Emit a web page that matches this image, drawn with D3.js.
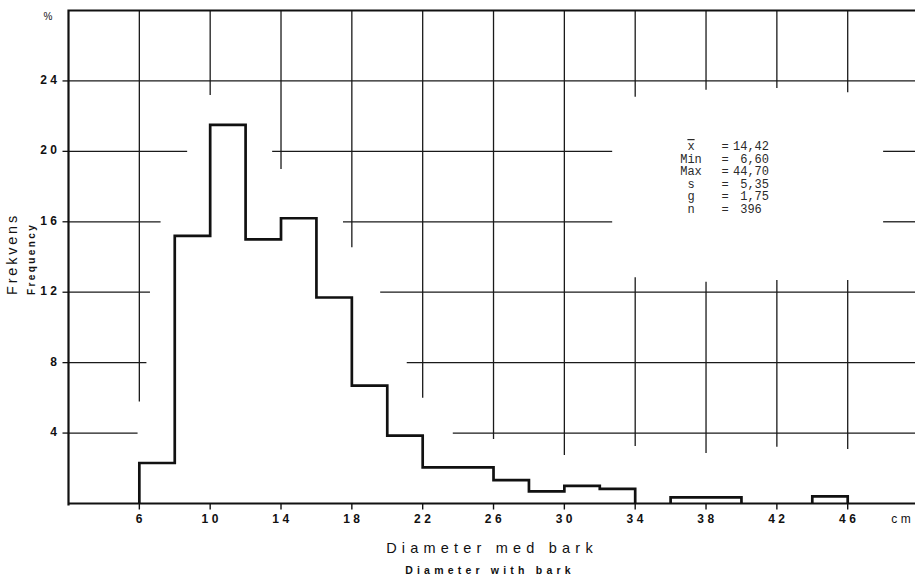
<!DOCTYPE html>
<html>
<head>
<meta charset="utf-8">
<script src="https://cdn.jsdelivr.net/npm/d3@7"></script>
<style>
  body { margin: 0; background: #fff; }
  svg { display: block; }
  text { font-family: "Liberation Sans", Arial, sans-serif; fill: #111; }
  .stats text { font-family: "Liberation Mono", "DejaVu Sans Mono", monospace; fill: #2a2a2a; white-space: pre; }
</style>
</head>
<body>
<svg id="chart" width="915" height="580"></svg>
<script>
// 2 cm diameter classes, frequency in % of trees
var bin_starts = [6, 8, 10, 12, 14, 16, 18, 20, 22, 24, 26, 28, 30, 32, 34, 36, 38, 40, 42, 44]
var bin_width = 2
var frequency = [2.3, 15.2, 21.5, 15.0, 16.2, 11.7, 6.7, 3.85, 2.05, 2.05, 1.33, 0.69, 1.0, 0.83, 0, 0.35, 0.35, 0, 0, 0.4]

var x_ticks = [6, 10, 14, 18, 22, 26, 30, 34, 38, 42, 46]
var y_ticks = [4, 8, 12, 16, 20, 24]

var stats_labels = ["x", "Min", "Max", "s", "g", "n"]
var stats_values = ["14,42", "6,60", "44,70", "5,35", "1,75", "396"]

// the grid in the print is broken up, pieces kept as [at, from, to] in axis units
var grid_h = [
	[24, 2, 49.8],
	[20, 2, 8.7], [20, 13.5, 32.7], [20, 48, 49.8],
	[16, 2, 7.2], [16, 17.5, 32.7], [16, 48, 49.8],
	[12, 2, 6.6], [12, 19.6, 49.8],
	[8, 2, 6.4], [8, 21.1, 49.8],
	[4, 2, 5.9], [4, 23.7, 49.8]
]
var grid_v = [
	[6, 28, 5.8], [10, 28, 23.2], [14, 28, 19.0], [18, 28, 14.55],
	[22, 28, 6.0], [26, 28, 3.66], [30, 28, 2.75],
	[34, 28, 23.1], [34, 12.85, 3.26],
	[38, 28, 23.5], [38, 12.6, 2.87],
	[42, 28, 23.6], [42, 12.7, 3.23],
	[46, 28, 23.35], [46, 12.7, 3.1]
]

var svg = d3.select("#chart")
svg.append("rect").attr("width", 915).attr("height", 580).style("fill", "#fff")

var x_scale = d3.scaleLinear().domain([2, 49.8]).range([68.5, 915]),
    y_scale = d3.scaleLinear().domain([0, 28]).range([503.5, 10.5])

// grid pieces
svg.selectAll(".grid_h")
  .data(grid_h)
  .enter()
  .append("line")
  .attr("class", "grid_h")
  .attr("x1", d => x_scale(d[1]))
  .attr("x2", d => x_scale(d[2]))
  .attr("y1", d => y_scale(d[0]))
  .attr("y2", d => y_scale(d[0]))
  .style("stroke", "#1a1a1a")
  .style("stroke-width", 1.3)

svg.selectAll(".grid_v")
  .data(grid_v)
  .enter()
  .append("line")
  .attr("class", "grid_v")
  .attr("x1", d => x_scale(d[0]))
  .attr("x2", d => x_scale(d[0]))
  .attr("y1", d => y_scale(d[1]))
  .attr("y2", d => y_scale(d[2]))
  .style("stroke", "#1a1a1a")
  .style("stroke-width", 1.3)

// frame: left, top, bottom
var x0 = x_scale.range()[0], x1 = x_scale.range()[1],
    y0 = y_scale.range()[0], y1 = y_scale.range()[1]
svg.append("path")
  .attr("d", "M" + x1 + "," + y1 + "H" + x0 + "V" + (y0 + 2) + "M" + x0 + "," + y0 + "H" + x1)
  .style("fill", "none")
  .style("stroke", "#111")
  .style("stroke-width", 2.2)

// ticks
svg.selectAll(".x_tick")
  .data(x_ticks)
  .enter()
  .append("line")
  .attr("class", "x_tick")
  .attr("x1", d => x_scale(d)).attr("x2", d => x_scale(d))
  .attr("y1", y0).attr("y2", y0 + 6)
  .style("stroke", "#111").style("stroke-width", 1.4)

svg.selectAll(".y_tick")
  .data(y_ticks)
  .enter()
  .append("line")
  .attr("class", "y_tick")
  .attr("x1", x0 - 6).attr("x2", x0)
  .attr("y1", d => y_scale(d)).attr("y2", d => y_scale(d))
  .style("stroke", "#111").style("stroke-width", 1.3)

// histogram outline, every run of non-empty classes is closed down to the axis
var hist = d3.path()
var open = false
bin_starts.forEach(function(b, i) {
	var v = frequency[i]
	if (v > 0) {
		if (!open) { hist.moveTo(x_scale(b), y_scale(0)); open = true }
		hist.lineTo(x_scale(b), y_scale(v))
		hist.lineTo(x_scale(b + bin_width), y_scale(v))
	}
	if (open && (v == 0 || i == bin_starts.length - 1)) {
		var end = v == 0 ? b : b + bin_width
		hist.lineTo(x_scale(end), y_scale(0))
		open = false
	}
})
svg.append("path")
  .attr("d", hist.toString())
  .style("fill", "none")
  .style("stroke", "#111")
  .style("stroke-width", 2.7)
  .style("stroke-linejoin", "miter")

// tick labels
svg.selectAll(".x_label")
  .data(x_ticks)
  .enter()
  .append("text")
  .attr("class", "x_label")
  .attr("x", d => x_scale(d) + 1.5)
  .attr("y", y0 + 19)
  .attr("text-anchor", "middle")
  .style("font-size", "12px")
  .style("font-weight", "bold")
  .style("letter-spacing", "3.5px")
  .text(d => d)

svg.append("text")
  .attr("x", x_scale(49) + 2)
  .attr("y", y0 + 19)
  .attr("text-anchor", "middle")
  .style("font-size", "12px")
  .style("letter-spacing", "3.5px")
  .text("cm")

svg.selectAll(".y_label")
  .data(y_ticks)
  .enter()
  .append("text")
  .attr("class", "y_label")
  .attr("x", x0 - 8)
  .attr("y", d => y_scale(d) + 3)
  .attr("text-anchor", "end")
  .style("font-size", "12px")
  .style("font-weight", "bold")
  .style("letter-spacing", "3.5px")
  .text(d => d)

svg.append("text")
  .attr("x", 48).attr("y", 20)
  .attr("text-anchor", "middle")
  .style("font-size", "10px")
  .text("%")

// axis titles
svg.append("text")
  .attr("x", 492).attr("y", 553)
  .attr("text-anchor", "middle")
  .style("font-size", "14.5px")
  .style("letter-spacing", "5.2px")
  .text("Diameter med bark")

svg.append("text")
  .attr("x", 490).attr("y", 574)
  .attr("text-anchor", "middle")
  .style("font-size", "10.5px")
  .style("font-weight", "bold")
  .style("letter-spacing", "4.2px")
  .text("Diameter with bark")

svg.append("text")
  .attr("transform", "translate(16.5,295) rotate(-90)")
  .style("font-size", "14.5px")
  .style("letter-spacing", "2.8px")
  .text("Frekvens")

svg.append("text")
  .attr("transform", "translate(34.5,295) rotate(-90)")
  .style("font-size", "10px")
  .style("font-weight", "bold")
  .style("letter-spacing", "2.4px")
  .text("Frequency")

// summary statistics, typed in a fixed width font
var g_stats = svg.append("g").attr("class", "stats")
var row = g_stats.selectAll(".stat_row")
  .data(stats_labels)
  .enter()
  .append("g")
  .attr("class", "stat_row")
  .attr("transform", (d, i) => "translate(0," + (150 + i * 12.5) + ")")

row.append("text")
  .attr("x", 691)
  .attr("text-anchor", "middle")
  .style("font-size", "12px")
  .style("text-decoration", (d, i) => i == 0 ? "overline" : null)
  .text(d => d)

row.append("text")
  .attr("x", 725)
  .attr("text-anchor", "middle")
  .style("font-size", "12px")
  .text("=")

row.append("text")
  .attr("x", 733)
  .style("font-size", "12px")
  .text((d, i) => (stats_values[i].length < 5 ? " " : "") + stats_values[i])
</script>
</body>
</html>
